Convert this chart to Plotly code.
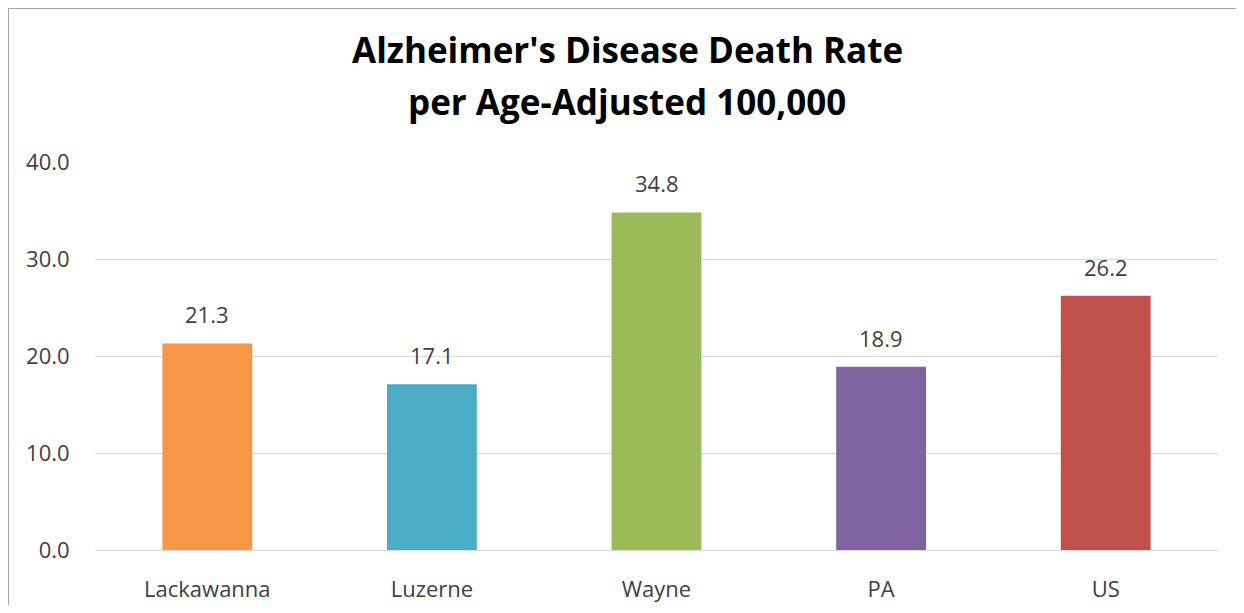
import plotly.graph_objects as go

categories = ["Lackawanna", "Luzerne", "Wayne", "PA", "US"]
values = [21.3, 17.1, 34.8, 18.9, 26.2]
colors = ["#F79646", "#4BACC6", "#9BBB59", "#8064A2", "#C0504D"]
tick_vals = [0, 10, 20, 30, 40]
tick_text = ["0.0", "10.0", "20.0", "30.0", "40.0"]
title_lines = ["Alzheimer's Disease Death Rate", "per Age-Adjusted 100,000"]

FONT = "Open Sans, Liberation Sans, sans-serif"
W, H = 1228, 597
L, R, T, B = 87, 18, 154, 55
pw, ph = W - L - R, H - T - B

def px_x(p):
    return (p - L) / pw

def px_y(p):
    return (H - B - p) / ph

fig = go.Figure(go.Bar(
    x=categories, y=values, marker=dict(color=colors, line=dict(width=0)),
    width=0.4, hovertemplate="%{x}: %{y:.1f}<extra></extra>",
))

for c, v in zip(categories, values):
    fig.add_annotation(x=c, y=v, xref="x", yref="y", text=f"{v:.1f}",
                       showarrow=False, yanchor="bottom", yshift=12,
                       font=dict(family=FONT, size=22, color="#404040"))

fig.update_layout(
    width=W, height=H,
    margin=dict(l=L, r=R, t=T, b=B, autoexpand=False),
    paper_bgcolor="white", plot_bgcolor="white",
    showlegend=False,
    font=dict(family=FONT, size=22, color="#404040"),
    xaxis=dict(showgrid=False, showline=False, ticks="outside", ticklen=20,
               tickcolor="rgba(0,0,0,0)", tickfont=dict(size=22, color="#404040")),
    yaxis=dict(range=[0, 40], tickvals=tick_vals, ticktext=tick_text, showgrid=True,
               gridcolor="#D9D9D9", gridwidth=1, zeroline=True, zerolinecolor="#D9D9D9",
               zerolinewidth=1, showline=False, ticks="outside", ticklen=20,
               tickcolor="rgba(0,0,0,0)", tickfont=dict(size=22, color="#404040")),
    bargap=0.6,
)

for line, base in zip(title_lines, [57, 109]):
    fig.add_annotation(text=f"<b>{line}</b>", xref="paper", yref="paper",
                       x=px_x(619), y=px_y(base + 10), xanchor="center", yanchor="bottom",
                       showarrow=False, font=dict(family=FONT, size=35, color="#000000"))

fig.add_shape(type="line", xref="paper", yref="paper",
              x0=px_x(0), x1=px_x(W + 5), y0=px_y(0), y1=px_y(0),
              line=dict(color="#A6A6A6", width=2))
fig.add_shape(type="line", xref="paper", yref="paper",
              x0=px_x(0), x1=px_x(0), y0=px_y(0), y1=px_y(H + 5),
              line=dict(color="#A6A6A6", width=2))

fig.write_html("out.html")
